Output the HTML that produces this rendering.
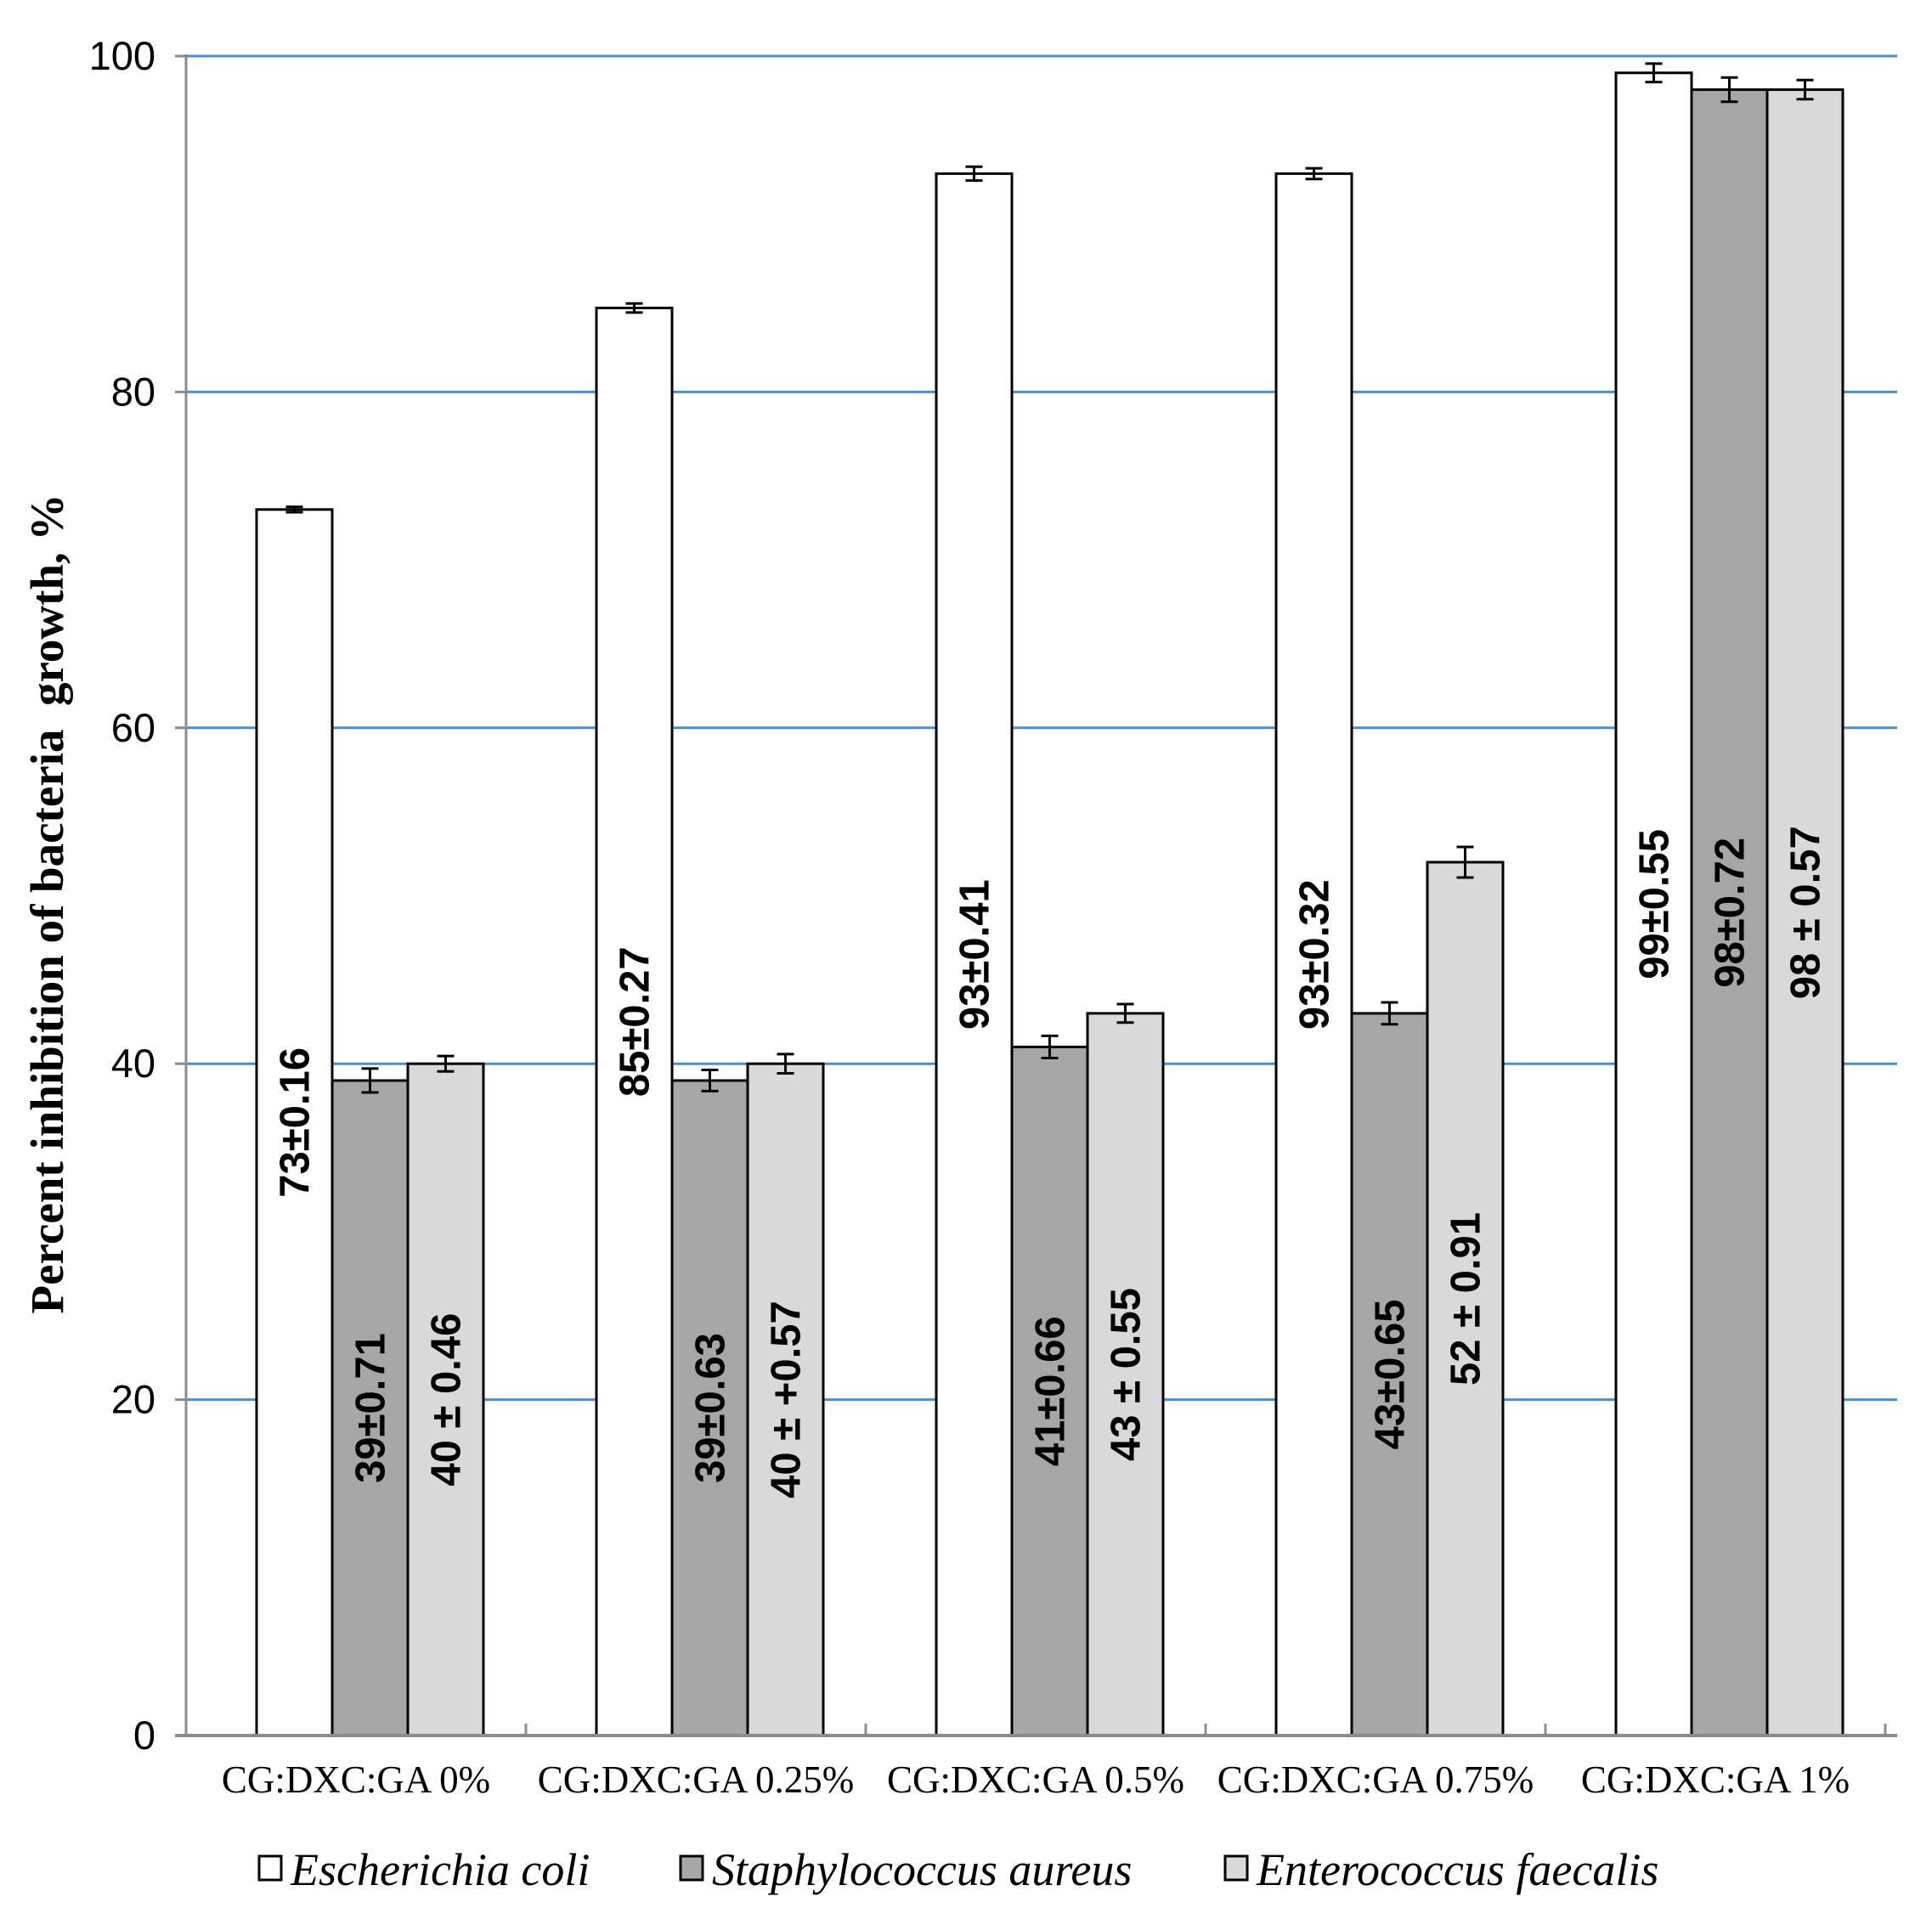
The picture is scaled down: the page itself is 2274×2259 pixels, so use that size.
<!DOCTYPE html>
<html><head><meta charset="utf-8"><style>
html,body{margin:0;padding:0;background:#fff}
svg{display:block}
</style></head><body>
<svg id="chart" width="2274" height="2259" viewBox="0 0 2274 2259" xmlns="http://www.w3.org/2000/svg">
<g id="grid"></g><g id="bars"></g><g id="axes"></g><g id="labels"></g>
<text transform="translate(74,1064) rotate(-90)" text-anchor="middle" font-family="Liberation Serif, serif" font-weight="bold" font-size="55" fill="#000" xml:space="preserve">Percent inhibition of bacteria  growth, %</text>
<g font-family="Liberation Serif, serif" font-style="italic" font-size="54" fill="#000">
 <rect x="305" y="2185" width="26" height="28" fill="#fff" stroke="#000" stroke-width="3"/>
 <text x="342" y="2219">Escherichia coli</text>
 <rect x="801" y="2185" width="26" height="28" fill="#a6a6a6" stroke="#000" stroke-width="3"/>
 <text x="838" y="2219">Staphylococcus aureus</text>
 <rect x="1442" y="2185" width="26" height="28" fill="#d9d9d9" stroke="#000" stroke-width="3"/>
 <text x="1479" y="2219">Enterococcus faecalis</text>
</g>
</svg>
<script>
const categories = ["CG:DXC:GA  0%","CG:DXC:GA  0.25%","CG:DXC:GA  0.5%","CG:DXC:GA  0.75%","CG:DXC:GA  1%"];
const ecoli = [73,85,93,93,99];
const saureus = [39,39,41,43,98];
const efaecalis = [40,40,43,52,98];
const ecoliErr = [0.16,0.27,0.41,0.32,0.55];
const saureusErr = [0.71,0.63,0.66,0.65,0.72];
const efaecalisErr = [0.46,0.57,0.55,0.91,0.57];
const ecoliLabels = ["73±0.16","85±0.27","93±0.41","93±0.32","99±0.55"];
const saureusLabels = ["39±0.71","39±0.63","41±0.66","43±0.65","98±0.72"];
const efaecalisLabels = ["40 ± 0.46","40 ± +0.57","43 ± 0.55","52 ± 0.91","98 ± 0.57"];
const yTicks = [0,20,40,60,80,100];

const NS="http://www.w3.org/2000/svg";
const X0=219, X1=2233, Y0=2043, Y100=66;
const groupW=400, barW=89, offset=83;
function y(v){return Y0-(Y0-Y100)*v/100;}
function xBar(i,s){return X0+i*groupW+offset+s*barW;}
function mk(tag,attrs,parent){const e=document.createElementNS(NS,tag);for(const k in attrs)e.setAttribute(k,attrs[k]);parent.appendChild(e);return e;}
const grid=document.getElementById('grid'),bars=document.getElementById('bars'),axes=document.getElementById('axes'),labels=document.getElementById('labels');

yTicks.forEach(t=>{
  if(t>0){const l=mk('line',{x1:X0,x2:X1,y1:y(t),y2:y(t),stroke:'#4a8fcf','stroke-width':3},grid);
  
  }
  const tk=mk('line',{x1:X0-13,x2:X0,y1:y(t),y2:y(t),stroke:'#8c8c8c','stroke-width':3},axes);
  
  
  const tx=mk('text',{x:183,y:y(t)+16,'text-anchor':'end','font-family':'Liberation Sans, sans-serif','font-size':47,fill:'#000'},axes);
  tx.textContent=t;
  
  
});
const ya=mk('line',{x1:X0,x2:X0,y1:Y100-2,y2:Y0,stroke:'#8c8c8c','stroke-width':3},axes);


const xa=mk('line',{x1:X0-13,x2:X1,y1:Y0,y2:Y0,stroke:'#8c8c8c','stroke-width':4},axes);


for(let i=1;i<=categories.length;i++){
  const t=mk('line',{x1:X0+i*groupW,x2:X0+i*groupW,y1:Y0-14,y2:Y0,stroke:'#8c8c8c','stroke-width':3},axes);
  
  
}
const series=[{v:ecoli,e:ecoliErr,l:ecoliLabels,c:'#ffffff',n:'ecoli'},{v:saureus,e:saureusErr,l:saureusLabels,c:'#a6a6a6',n:'saureus'},{v:efaecalis,e:efaecalisErr,l:efaecalisLabels,c:'#d9d9d9',n:'efaecalis'}];
categories.forEach((cat,i)=>{
  series.forEach((s,si)=>{
    const x=xBar(i,si),top=y(s.v[i]);
    const r=mk('rect',{x:x,y:top,width:barW,height:Y0-top,fill:s.c,stroke:'#000','stroke-width':3},bars);
    
    
    const cx=x+barW/2,e1=y(s.v[i]+s.e[i]),e2=y(s.v[i]-s.e[i]);
    const eb=mk('path',{d:`M${cx},${e1}V${e2}M${cx-10},${e1}H${cx+10}M${cx-10},${e2}H${cx+10}`,stroke:'#000','stroke-width':3,fill:'none'},bars);
    
    
    const my=(top+Y0)/2;
    const t=mk('text',{transform:`translate(${cx+17},${my}) rotate(-90)`,'text-anchor':'middle','font-family':'Liberation Sans, sans-serif','font-weight':'bold','font-size':49,fill:'#000','xml:space':'preserve'},labels);
    t.textContent=s.l[i];
    
    
  });
  const ct=mk('text',{x:X0+(i+0.5)*groupW,y:2110,'text-anchor':'middle','font-family':'Liberation Serif, serif','font-size':45,fill:'#000','xml:space':'preserve'},labels);
  ct.textContent=cat;
  
  
});
</script>
</body></html>
